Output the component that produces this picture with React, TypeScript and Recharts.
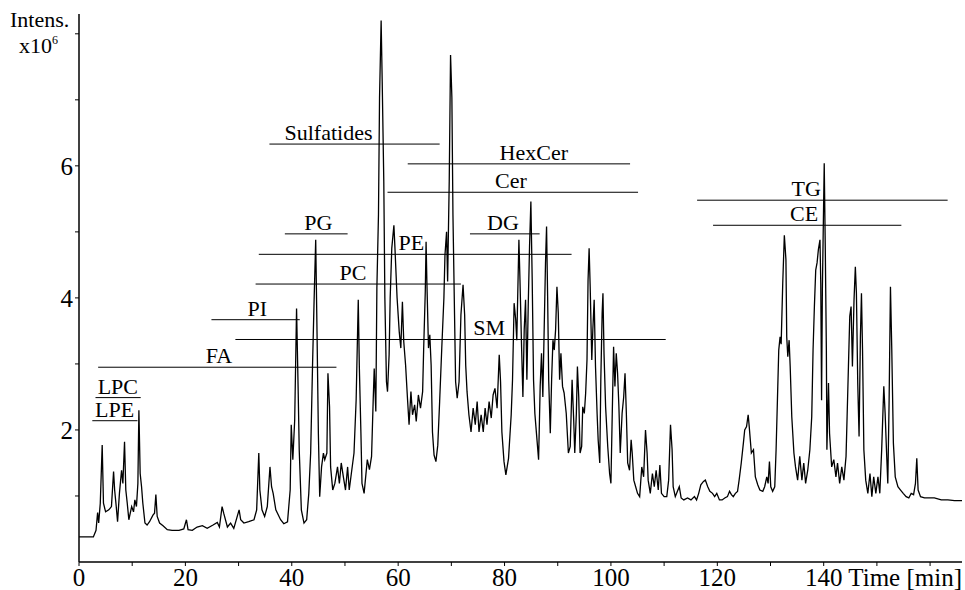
import React from 'react';
import { LineChart, Line, XAxis, YAxis, ReferenceLine, ReferenceDot } from 'recharts';

// Chromatogram trace: [time (min), intensity (x10^6)]
const tracePoints: [number, number][] = [
  [0, 0.38], [2.7, 0.38], [3.2, 0.48], [3.5, 0.75], [3.7, 0.59], [4.0, 0.89], [4.36, 1.77], [4.6, 0.89], [5.0, 0.76], [5.6, 0.79],
  [6.1, 0.84], [6.5, 1.37], [6.7, 1.09], [7.0, 0.84], [7.25, 0.61], [7.6, 1.04], [8.0, 1.39], [8.25, 1.19], [8.56, 1.82], [8.8, 1.09],
  [9.07, 0.89], [9.37, 0.64], [9.9, 0.84], [10.25, 0.76], [10.5, 0.94], [10.8, 0.84], [11.07, 1.19], [11.26, 2.3], [11.5, 1.34], [11.76, 1.14],
  [12.0, 0.89], [12.4, 0.59], [12.8, 0.56], [13.26, 0.61], [13.9, 0.71], [14.2, 0.74], [14.45, 1.02], [14.7, 0.69], [15.15, 0.59], [15.8, 0.55],
  [16.6, 0.49], [17.5, 0.48], [18.8, 0.48], [19.7, 0.5], [20.2, 0.64], [20.5, 0.49], [21.3, 0.48], [22.2, 0.53], [23.2, 0.55], [24.1, 0.51],
  [25.2, 0.56], [26.0, 0.6], [26.4, 0.53], [26.9, 0.84], [27.2, 0.74], [27.9, 0.53], [28.5, 0.59], [29.1, 0.51], [30.1, 0.79], [30.4, 0.64],
  [31.0, 0.59], [31.9, 0.61], [32.9, 0.64], [33.4, 0.79], [33.8, 1.65], [34.0, 1.09], [34.4, 0.79], [34.9, 0.69], [35.4, 0.84], [35.9, 1.44],
  [36.2, 1.14], [36.5, 1.04], [37.0, 0.79], [37.9, 0.64], [38.5, 0.58], [39.2, 0.61], [39.7, 1.09], [39.9, 2.08], [40.2, 1.55], [40.55, 2.15],
  [40.9, 3.84], [41.2, 2.61], [41.4, 1.7], [41.8, 0.79], [42.3, 0.59], [42.8, 0.64], [43.2, 1.04], [43.55, 1.65], [43.9, 2.96], [44.2, 3.97],
  [44.5, 4.88], [44.75, 3.46], [45.0, 1.95], [45.25, 0.99], [45.6, 1.44], [45.95, 1.65], [46.2, 1.55], [46.6, 1.65], [46.8, 2.86], [47.1, 2.35],
  [47.3, 1.44], [47.7, 1.09], [48.1, 1.19], [48.6, 1.44], [48.95, 1.19], [49.3, 1.5], [49.7, 1.29], [50.1, 1.09], [50.5, 1.44], [50.8, 1.09],
  [51.2, 1.34], [51.7, 1.65], [52.1, 2.45], [52.5, 3.97], [52.7, 2.96], [53.0, 1.95], [53.2, 1.19], [53.6, 1.04], [54.2, 1.55], [54.6, 1.4],
  [55.0, 1.6], [55.3, 2.43], [55.5, 2.93], [55.8, 2.28], [56.0, 4.15], [56.3, 5.26], [56.5, 7.03], [56.8, 8.2], [57.0, 7.28], [57.3, 5.76],
  [57.5, 4.0], [57.8, 2.73], [58.0, 2.58], [58.3, 3.14], [58.5, 4.0], [58.8, 4.75], [59.2, 5.1], [59.4, 4.75], [59.8, 4.0], [60.2, 3.49],
  [60.5, 3.24], [60.8, 3.94], [61.05, 3.34], [61.4, 2.98], [61.75, 2.48], [62.05, 2.08], [62.4, 2.58], [62.7, 2.23], [63.1, 2.38], [63.4, 2.13],
  [63.8, 2.53], [64.2, 2.33], [64.6, 2.58], [64.8, 3.24], [65.1, 4.1], [65.25, 4.85], [65.4, 4.25], [65.7, 3.24], [65.95, 3.44], [66.2, 2.98],
  [66.45, 1.97], [66.75, 1.62], [67.1, 1.52], [67.45, 1.77], [67.8, 2.43], [68.2, 3.24], [68.6, 4.0], [68.8, 4.65], [69.1, 5.0], [69.3, 4.25],
  [69.6, 5.76], [69.85, 7.68], [70.1, 7.03], [70.3, 5.26], [70.6, 3.74], [70.8, 2.73], [71.1, 2.48], [71.45, 2.73], [71.8, 3.74], [72.2, 4.2],
  [72.5, 3.74], [72.7, 2.98], [72.95, 2.58], [73.3, 2.23], [73.7, 1.97], [74.1, 2.33], [74.5, 2.08], [74.85, 2.43], [75.2, 1.97], [75.6, 2.23],
  [76.0, 1.97], [76.35, 2.33], [76.7, 2.08], [77.1, 2.43], [77.5, 2.18], [77.85, 2.53], [78.2, 2.63], [78.6, 2.33], [79.0, 3.14], [79.25, 2.73],
  [79.5, 1.97], [79.9, 1.52], [80.25, 1.32], [80.75, 1.57], [81.25, 2.23], [81.5, 2.76], [81.8, 3.92], [82.1, 3.67], [82.3, 3.36], [82.7, 4.88],
  [82.9, 4.27], [83.2, 3.26], [83.45, 2.5], [83.7, 3.52], [83.95, 3.97], [84.2, 2.76], [84.45, 3.87], [84.7, 4.78], [84.95, 5.46], [85.2, 4.27],
  [85.45, 2.76], [85.7, 2.25], [86.1, 1.85], [86.4, 1.55], [86.7, 2.66], [86.95, 3.16], [87.2, 2.5], [87.45, 3.52], [87.7, 4.53], [87.9, 5.08],
  [88.1, 4.02], [88.3, 2.76], [88.6, 1.95], [88.85, 2.76], [89.1, 3.36], [89.35, 3.21], [89.6, 3.52], [89.85, 4.17], [90.1, 3.77], [90.35, 2.76],
  [90.6, 3.16], [90.9, 2.66], [91.2, 2.56], [91.6, 2.25], [92.0, 1.65], [92.35, 1.75], [92.7, 2.76], [93.0, 2.15], [93.2, 1.65], [93.5, 2.25],
  [93.7, 2.96], [93.95, 2.5], [94.2, 1.65], [94.5, 1.75], [94.7, 2.35], [95.0, 2.25], [95.25, 2.56], [95.5, 3.06], [95.7, 4.27], [95.9, 4.75],
  [96.1, 4.17], [96.4, 3.06], [96.6, 3.52], [96.85, 3.97], [97.1, 2.96], [97.4, 2.25], [97.6, 1.85], [97.9, 1.5], [98.1, 2.76], [98.35, 3.77],
  [98.5, 4.07], [98.7, 3.16], [99.0, 2.35], [99.4, 1.75], [99.75, 1.34], [100.0, 1.19], [100.25, 2.25], [100.5, 3.26], [100.75, 2.66], [101.0, 3.16],
  [101.25, 2.86], [101.5, 2.35], [101.75, 1.65], [102.1, 2.25], [102.4, 2.5], [102.65, 2.86], [102.9, 2.25], [103.15, 1.5], [103.5, 1.39], [103.8, 1.85],
  [104.0, 1.65], [104.3, 1.24], [104.65, 1.14], [105.0, 1.04], [105.4, 0.99], [105.8, 1.44], [106.15, 1.29], [106.5, 2.0], [106.8, 1.65], [107.0, 1.24],
  [107.4, 1.04], [107.8, 1.34], [108.15, 1.14], [108.5, 1.39], [108.9, 1.09], [109.2, 1.47], [109.5, 1.04], [110.0, 0.99], [110.5, 0.99], [110.85, 1.24],
  [111.2, 2.08], [111.5, 1.7], [111.7, 1.14], [112.1, 0.99], [112.5, 1.07], [112.85, 1.14], [113.2, 0.97], [113.7, 0.94], [114.4, 0.97], [115.05, 0.94],
  [115.7, 0.99], [116.1, 0.94], [116.5, 1.04], [116.9, 1.17], [117.4, 1.22], [117.75, 1.24], [118.2, 1.14], [118.6, 1.07], [119.1, 1.04], [119.5, 0.99],
  [119.9, 1.04], [120.4, 0.94], [120.9, 0.94], [121.4, 0.97], [121.9, 0.99], [122.3, 1.07], [122.65, 1.02], [123.0, 0.99], [123.4, 1.04], [123.8, 1.07],
  [124.1, 1.24], [124.5, 1.5], [124.9, 1.8], [125.15, 2.0], [125.5, 2.05], [125.8, 2.23], [126.0, 2.05], [126.4, 1.65], [126.8, 1.7], [127.15, 1.29],
  [127.6, 1.17], [128.0, 1.09], [128.55, 1.07], [128.9, 1.14], [129.3, 1.29], [129.55, 1.19], [129.8, 1.52], [130.05, 1.14], [130.4, 1.07], [130.8, 1.14],
  [131.05, 1.7], [131.3, 2.45], [131.55, 3.21], [131.8, 3.41], [132.0, 3.3], [132.3, 4.22], [132.6, 4.95], [132.9, 4.58], [133.05, 3.41], [133.25, 3.11],
  [133.5, 3.36], [133.7, 2.96], [134.0, 2.2], [134.4, 1.65], [134.7, 1.44], [135.1, 1.24], [135.5, 1.6], [135.9, 1.24], [136.25, 1.5], [136.6, 1.19],
  [137.0, 1.39], [137.4, 1.7], [137.75, 2.2], [138.0, 3.21], [138.25, 3.87], [138.5, 4.42], [138.75, 4.53], [139.0, 4.73], [139.3, 4.88], [139.45, 4.22],
  [139.6, 2.45], [139.75, 4.12], [139.95, 5.23], [140.1, 6.04], [140.3, 4.73], [140.5, 3.21], [140.6, 1.7], [140.9, 2.71], [141.1, 1.95], [141.5, 1.44],
  [141.9, 1.55], [142.3, 1.29], [142.6, 1.5], [143.0, 1.19], [143.4, 1.44], [143.8, 1.24], [144.2, 1.6], [144.4, 2.2], [144.65, 2.96], [144.9, 3.72],
  [145.15, 3.87], [145.4, 2.96], [145.7, 3.97], [145.95, 4.47], [146.15, 4.07], [146.4, 2.71], [146.65, 1.9], [146.9, 3.41], [147.1, 4.07], [147.3, 3.21],
  [147.55, 1.7], [147.9, 1.24], [148.3, 1.04], [148.7, 1.34], [149.05, 0.99], [149.4, 1.29], [149.8, 1.04], [150.2, 1.29], [150.55, 1.04], [150.9, 1.7],
  [151.3, 2.66], [151.55, 2.25], [151.8, 1.7], [152.05, 1.19], [152.3, 2.45], [152.55, 4.17], [152.8, 3.21], [153.1, 1.8], [153.45, 1.29], [153.95, 1.14],
  [154.45, 1.09], [154.95, 1.04], [155.5, 0.99], [156.0, 0.97], [156.45, 1.04], [156.9, 1.02], [157.25, 1.19], [157.5, 1.57], [157.75, 1.09], [158.2, 0.99],
  [158.95, 0.97], [159.9, 0.97], [160.8, 0.97], [162.1, 0.94], [163.35, 0.94], [164.6, 0.93], [166.0, 0.93],
];

// Lipid class elution windows
const classNames = ['LPC', 'LPE', 'FA', 'PI', 'SM', 'PC', 'PE', 'PG', 'DG', 'Sulfatides', 'HexCer', 'Cer', 'TG', 'CE'];
const classStart = [3.1, 2.5, 3.6, 24.9, 29.4, 33.2, 33.8, 38.7, 73.5, 35.8, 61.8, 58.0, 116.2, 119.2];
const classEnd = [11.6, 11.0, 48.4, 41.5, 110.3, 71.8, 92.6, 50.5, 86.6, 67.8, 103.6, 105.1, 163.3, 154.6];
const classLevel = [2.49, 2.14, 2.95, 3.67, 3.37, 4.21, 4.66, 4.97, 4.97, 6.33, 6.03, 5.6, 5.48, 5.1];
const classLabelAt = [7.3, 6.7, 26.3, 33.5, 77.1, 51.5, 62.5, 45.0, 79.7, 46.9, 85.5, 81.2, 136.7, 136.3];

const xTicks = [0, 10, 20, 30, 40, 50, 60, 70, 80, 90, 100, 110, 120, 130, 140, 150, 160];
const xLabeled = [0, 20, 40, 60, 80, 100, 120, 140];
const yTicks = [1, 2, 3, 4, 5, 6, 7, 8];
const yLabeled = [2, 4, 6];

const FONT = '"Liberation Serif", "Times New Roman", serif';

const traceData = tracePoints.map(([t, v]) => ({ t, v }));

const XTick = (props: any) => {
  const { x, y, payload } = props;
  if (!xLabeled.includes(payload.value)) return <g />;
  return (
    <text x={x} y={y + 18} textAnchor="middle" fontFamily={FONT} fontSize={25} fill="#000">
      {payload.value}
    </text>
  );
};

const YTick = (props: any) => {
  const { x, y, payload } = props;
  if (payload.value === 8) {
    return (
      <g>
        <text x={x - 63} y={y - 7} fontFamily={FONT} fontSize={22} fill="#000">Intens.</text>
        <text x={x - 54} y={y + 19} fontFamily={FONT} fontSize={22} fill="#000">
          x10<tspan fontSize={12} dy={-9}>6</tspan>
        </text>
      </g>
    );
  }
  if (!yLabeled.includes(payload.value)) return <g />;
  return (
    <text x={x} y={y} dy="0.35em" textAnchor="end" fontFamily={FONT} fontSize={25} fill="#000">
      {payload.value}
    </text>
  );
};

const timeLabel = (props: any) => {
  const vb = props.viewBox || {};
  return (
    <text x={vb.x + vb.width} y={vb.y + 24} textAnchor="end" fontFamily={FONT} fontSize={25} fill="#000">
      Time [min]
    </text>
  );
};

const classLabel = (name: string) => (props: any) => {
  const vb = props.viewBox || {};
  const cx = vb.x + (vb.width || 0) / 2;
  const cy = vb.y + (vb.height || 0) / 2;
  return (
    <text x={cx} y={cy - 4} textAnchor="middle" fontFamily={FONT} fontSize={22} fill="#000">
      {name}
    </text>
  );
};

export default function App() {
  return (
    <div style={{ position: 'absolute', left: 0, top: 0, width: 965, height: 590, background: '#fff' }}>
      <LineChart width={965} height={590} data={traceData} margin={{ top: 14, right: 3, left: 0, bottom: 0 }}>
        <XAxis
          dataKey="t"
          type="number"
          domain={[0, 166]}
          allowDataOverflow
          ticks={xTicks}
          interval={0}
          tickSize={4}
          tickMargin={2}
          height={28}
          axisLine={{ stroke: '#000', strokeWidth: 1.5 }}
          tickLine={{ stroke: '#000' }}
          tick={XTick}
          label={timeLabel}
        />
        <XAxis
          xAxisId="top"
          orientation="top"
          type="number"
          domain={[0, 166]}
          height={0}
          tick={false}
          tickLine={false}
          axisLine={{ stroke: '#000', strokeWidth: 1.5 }}
        />
        <YAxis
          type="number"
          domain={[0, 8.3]}
          allowDataOverflow
          ticks={yTicks}
          interval={0}
          width={79}
          tickSize={4}
          tickMargin={2}
          axisLine={{ stroke: '#000', strokeWidth: 1.5 }}
          tickLine={{ stroke: '#000' }}
          tick={YTick}
        />
        <YAxis
          yAxisId="right"
          orientation="right"
          type="number"
          domain={[0, 8.3]}
          width={0}
          tick={false}
          tickLine={false}
          axisLine={{ stroke: '#000', strokeWidth: 1.5 }}
        />
        {classNames.map((name, i) => (
          <ReferenceLine
            key={`seg-${name}`}
            segment={[
              { x: classStart[i], y: classLevel[i] },
              { x: classEnd[i], y: classLevel[i] },
            ]}
            stroke="#000"
            strokeWidth={1}
            ifOverflow="visible"
          />
        ))}
        {classNames.map((name, i) => (
          <ReferenceDot
            key={`lbl-${name}`}
            x={classLabelAt[i]}
            y={classLevel[i]}
            r={0}
            fill="none"
            stroke="none"
            ifOverflow="visible"
            label={classLabel(name)}
          />
        ))}
        <Line
          dataKey="v"
          type="linear"
          dot={false}
          stroke="#000"
          strokeWidth={1.3}
          isAnimationActive={false}
        />
      </LineChart>
    </div>
  );
}
